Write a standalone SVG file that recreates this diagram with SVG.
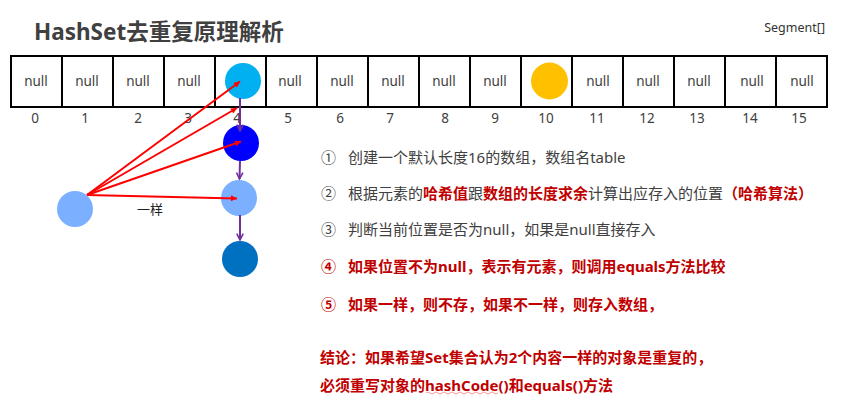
<svg xmlns="http://www.w3.org/2000/svg" width="864" height="405" viewBox="0 0 864 405">
<style>
text{font-family:"Noto Sans","Noto Sans CJK SC",sans-serif;}
.cell{fill:#fff;stroke:#000;stroke-width:2;}
.nul{font-size:13.5px;fill:#404040;text-anchor:middle;}
.idx{font-size:13.5px;fill:#404040;text-anchor:middle;}
.t{font-size:15px;fill:#404040;}
.r{fill:#C00000;font-weight:bold;}
.red{stroke:#FF0000;stroke-width:2;fill:none;}
.pur{stroke:#7030A0;stroke-width:2;fill:none;}
</style>
<defs>
<marker id="ar" viewBox="0 0 10 10" refX="10" refY="5" markerWidth="8" markerHeight="6" orient="auto" markerUnits="userSpaceOnUse">
<path d="M0,0 L10,5 L0,10 Z" fill="#FF0000"/>
</marker>
<marker id="ap" viewBox="0 0 10 10" refX="9" refY="5" markerWidth="8" markerHeight="8" orient="auto" markerUnits="userSpaceOnUse">
<path d="M1,1 L9,5 L1,9" fill="none" stroke="#7030A0" stroke-width="2"/>
</marker>
</defs>
<rect width="864" height="405" fill="#fff"/>
<text x="34" y="40" style="font-size:22.5px;font-weight:bold;fill:#404040;">HashSet去重复原理解析</text>
<text x="825" y="32" style="font-size:12.5px;fill:#333;text-anchor:end;">Segment[]</text>
<g id="array">
<rect class="cell" x="11" y="56" width="51" height="51"/>
<rect class="cell" x="62" y="56" width="51" height="51"/>
<rect class="cell" x="113" y="56" width="51" height="51"/>
<rect class="cell" x="164" y="56" width="51" height="51"/>
<rect class="cell" x="215" y="56" width="51" height="51"/>
<rect class="cell" x="266" y="56" width="51" height="51"/>
<rect class="cell" x="317" y="56" width="51" height="51"/>
<rect class="cell" x="368" y="56" width="51" height="51"/>
<rect class="cell" x="419" y="56" width="51" height="51"/>
<rect class="cell" x="470" y="56" width="51" height="51"/>
<rect class="cell" x="521" y="56" width="51" height="51"/>
<rect class="cell" x="572" y="56" width="51" height="51"/>
<rect class="cell" x="623" y="56" width="51" height="51"/>
<rect class="cell" x="674" y="56" width="51" height="51"/>
<rect class="cell" x="725" y="56" width="51" height="51"/>
<rect class="cell" x="776" y="56" width="51" height="51"/>
<text class="nul" x="36" y="86">null</text>
<text class="nul" x="87" y="86">null</text>
<text class="nul" x="138" y="86">null</text>
<text class="nul" x="189" y="86">null</text>
<text class="nul" x="290" y="86">null</text>
<text class="nul" x="342" y="86">null</text>
<text class="nul" x="393" y="86">null</text>
<text class="nul" x="444" y="86">null</text>
<text class="nul" x="495" y="86">null</text>
<text class="nul" x="598" y="86">null</text>
<text class="nul" x="648" y="86">null</text>
<text class="nul" x="699" y="86">null</text>
<text class="nul" x="752" y="86">null</text>
<text class="nul" x="802" y="86">null</text>
<text class="idx" x="35" y="123">0</text>
<text class="idx" x="85" y="123">1</text>
<text class="idx" x="138" y="123">2</text>
<text class="idx" x="188" y="123">3</text>
<text class="idx" x="237" y="123">4</text>
<text class="idx" x="288" y="123">5</text>
<text class="idx" x="340" y="123">6</text>
<text class="idx" x="390" y="123">7</text>
<text class="idx" x="445" y="123">8</text>
<text class="idx" x="495" y="123">9</text>
<text class="idx" x="546" y="123">10</text>
<text class="idx" x="597" y="123">11</text>
<text class="idx" x="647" y="123">12</text>
<text class="idx" x="697" y="123">13</text>
<text class="idx" x="750" y="123">14</text>
<text class="idx" x="799" y="123">15</text>
</g>
<g id="node-cyan"><circle cx="243" cy="81" r="18" fill="#00B0F0"/></g>
<g id="node-yellow"><circle cx="549.5" cy="81" r="18.5" fill="#FFC000"/></g>
<g id="node-blue"><circle cx="241" cy="143" r="18" fill="#0000FF"/></g>
<g id="node-lightblue"><circle cx="239" cy="198" r="18" fill="#7AB0FF"/></g>
<g id="node-darkblue"><circle cx="240" cy="259" r="18" fill="#0070C0"/></g>
<g id="node-new"><circle cx="75" cy="209" r="18" fill="#7AB0FF"/></g>
<g id="connectors">
<line class="pur" x1="240" y1="98" x2="240" y2="131" marker-end="url(#ap)"/>
<line class="pur" x1="240" y1="161" x2="239.5" y2="179" marker-end="url(#ap)"/>
<line class="pur" x1="240" y1="215" x2="240" y2="240" marker-end="url(#ap)"/>
<line class="red" x1="87" y1="195" x2="240" y2="81.5" marker-end="url(#ar)"/>
<line class="red" x1="87" y1="195" x2="237" y2="108" marker-end="url(#ar)"/>
<line class="red" x1="87" y1="195" x2="241" y2="141.5" marker-end="url(#ar)"/>
<line class="red" x1="87" y1="195" x2="237" y2="198.5" marker-end="url(#ar)"/>
<text x="150" y="214" style="font-size:13px;fill:#222;text-anchor:middle;">一样</text>
</g>
<g id="notes">
<text class="t" y="163"><tspan x="321">①</tspan><tspan x="348">创建一个默认长度16的数组，数组名table</tspan></text>
<text class="t" y="199"><tspan x="321">②</tspan><tspan x="348">根据元素的</tspan><tspan class="r">哈希值</tspan><tspan>跟</tspan><tspan class="r">数组的长度求余</tspan><tspan>计算出应存入的位置</tspan><tspan class="r">（哈希算法）</tspan></text>
<text class="t" y="235"><tspan x="321">③</tspan><tspan x="348">判断当前位置是否为null，如果是null直接存入</tspan></text>
<text class="t r" y="272"><tspan x="321">④</tspan><tspan x="348">如果位置不为null，表示有元素，则调用equals方法比较</tspan></text>
<text class="t r" y="310"><tspan x="321">⑤</tspan><tspan x="348">如果一样，则不存，如果不一样，则存入数组，</tspan></text>
<text class="t r" x="320" y="363">结论：如果希望Set集合认为2个内容一样的对象是重复的，</text>
<text class="t r" x="320" y="391">必须重写对象的hashCode()和equals()方法</text>
<path d="M426,393 q2,-2 4,0 t4,0 t4,0 t4,0 t4,0 t4,0 t4,0 t4,0 t4,0 t4,0 t4,0 t4,0 t4,0 t4,0 t4,0 t4,0 t4,0 t4,0" fill="none" stroke="#F08080" stroke-width="0.8"/>
</g>
</svg>
